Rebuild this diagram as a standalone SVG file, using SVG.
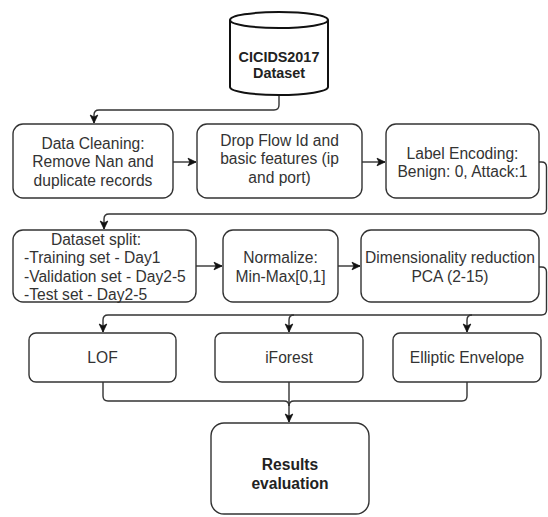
<svg xmlns="http://www.w3.org/2000/svg" width="548" height="517" viewBox="0 0 548 517">
<defs>
<style>
.box{fill:#fff;stroke:#333;stroke-width:1.4}
.cyl{fill:#fff;stroke:#111;stroke-width:2}
.t{font-family:"Liberation Sans",Arial,sans-serif;font-size:15.6px;fill:#333;text-anchor:middle}
.tl{text-anchor:start}
.b{font-weight:bold;fill:#222}
.e{fill:none;stroke:#333;stroke-width:1.4}
</style>
<marker id="ah" markerUnits="userSpaceOnUse" markerWidth="10" markerHeight="10" viewBox="0 0 10 10" refX="9" refY="5" orient="auto">
<path d="M1,1.2 L9,5 L1,8.8 L3,5 z" fill="#111" stroke="#111" stroke-width="0.8"/>
</marker>
</defs>
<rect width="548" height="517" fill="#fff"/>
<g id="connectors">
<path class="e" d="M279,95 V105 Q279,110 274,110 H99 Q94,110 94,115 V123" marker-end="url(#ah)"/>
<path class="e" d="M173,162 H196" marker-end="url(#ah)"/>
<path class="e" d="M362,162 H385" marker-end="url(#ah)"/>
<path class="e" d="M539,162 H541.5 Q546.5,162 546.5,167 V209 Q546.5,214 541.5,214 H109 Q104,214 104,219 V229" marker-end="url(#ah)"/>
<path class="e" d="M196,266 H222" marker-end="url(#ah)"/>
<path class="e" d="M338,266 H360" marker-end="url(#ah)"/>
<path class="e" d="M539,267 H541.5 Q546.5,267 546.5,272 V310 Q546.5,315 541.5,315 H108 Q103,315 103,320 V332" marker-end="url(#ah)"/>
<path class="e" d="M294,315 Q289,315 289,320 V332" marker-end="url(#ah)"/>
<path class="e" d="M472,315 Q467,315 467,320 V332" marker-end="url(#ah)"/>
<path class="e" d="M103,382 V396 Q103,401 108,401 H284 Q289,401 289,406"/>
<path class="e" d="M467,382 V396 Q467,401 462,401 H294 Q289,401 289,406"/>
<path class="e" d="M289,382 V422" marker-end="url(#ah)"/>
</g>
<g id="dataset">
<path class="cyl" d="M230,20 A49,8 0 0 1 328,20 V87 A49,8 0 0 1 230,87 Z"/>
<path class="cyl" d="M230,20 A49,8 0 0 0 328,20"/>
<text class="t b" x="279" y="62" style="font-size:14.4px">CICIDS2017</text>
<text class="t b" x="279" y="78" style="font-size:14.4px">Dataset</text>
</g>
<g id="cleaning">
<rect class="box" x="13" y="124" width="160" height="74" rx="10"/>
<text class="t" x="93" y="148.5">Data Cleaning:</text>
<text class="t" x="93" y="167">Remove Nan and</text>
<text class="t" x="93" y="185.5">duplicate records</text>
</g>
<g id="drop">
<rect class="box" x="197" y="124" width="165" height="74" rx="10"/>
<text class="t" x="279.5" y="145.5">Drop Flow Id and</text>
<text class="t" x="279.5" y="164">basic features (ip</text>
<text class="t" x="279.5" y="182.5">and port)</text>
</g>
<g id="encoding">
<rect class="box" x="386" y="124" width="153" height="74" rx="10"/>
<text class="t" x="462.5" y="158.5">Label Encoding:</text>
<text class="t" x="462.5" y="177">Benign: 0, Attack:1</text>
</g>
<g id="split">
<rect class="box" x="13" y="230" width="183" height="72" rx="10"/>
<text class="t" x="96" y="244.5">Dataset split:</text>
<text class="t tl" x="24" y="263">-Training set - Day1</text>
<text class="t tl" x="24" y="281.5">-Validation set - Day2-5</text>
<text class="t tl" x="24" y="299.5">-Test set - Day2-5</text>
</g>
<g id="normalize">
<rect class="box" x="223" y="230" width="115" height="72" rx="10"/>
<text class="t" x="280.5" y="263">Normalize:</text>
<text class="t" x="280.5" y="282">Min-Max[0,1]</text>
</g>
<g id="pca">
<rect class="box" x="361" y="230" width="178" height="72" rx="10"/>
<text class="t" x="450" y="263">Dimensionality reduction</text>
<text class="t" x="450" y="282">PCA (2-15)</text>
</g>
<g id="lof">
<rect class="box" x="29" y="333" width="147" height="49" rx="7"/>
<text class="t" x="102.5" y="362.5">LOF</text>
</g>
<g id="iforest">
<rect class="box" x="215" y="333" width="148" height="49" rx="7"/>
<text class="t" x="289" y="362.5">iForest</text>
</g>
<g id="elliptic">
<rect class="box" x="393" y="333" width="148" height="49" rx="7"/>
<text class="t" x="467" y="362.5">Elliptic Envelope</text>
</g>
<g id="results">
<rect class="box" x="211" y="423" width="158" height="91" rx="13"/>
<text class="t b" x="290" y="469.5">Results</text>
<text class="t b" x="290" y="488.5">evaluation</text>
</g>
</svg>
